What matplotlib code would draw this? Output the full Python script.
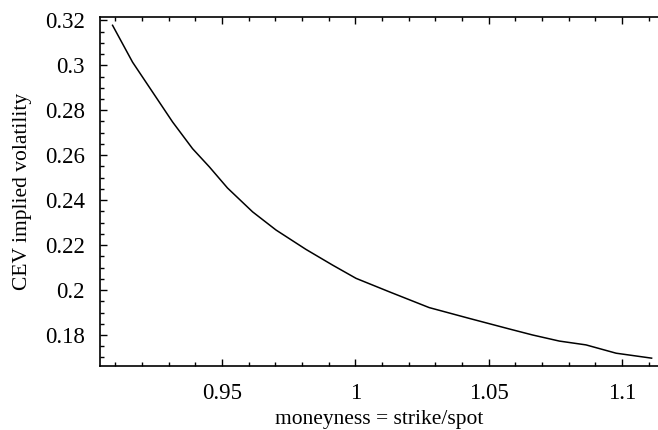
import numpy as np
import matplotlib.pyplot as plt
from matplotlib.ticker import MultipleLocator, FuncFormatter

# CEV implied volatility vs moneyness
moneyness = [0.909, 0.9165, 0.924, 0.9315, 0.939, 0.9453, 0.9521, 0.9615,
             0.9703, 0.9815, 0.9915, 1.0003, 1.0128, 1.0277, 1.0427, 1.0577,
             1.0665, 1.0765, 1.0865, 1.0978, 1.1111]
implied_vol = [0.3178, 0.3014, 0.2881, 0.2748, 0.2629, 0.2548, 0.2454, 0.2348,
               0.2267, 0.2181, 0.2111, 0.2052, 0.1992, 0.1922, 0.1874, 0.1827,
               0.1800, 0.1773, 0.1756, 0.1719, 0.1697]

plt.rcParams['font.family'] = ['Liberation Serif', 'DejaVu Serif']

fig = plt.figure(figsize=(6.58, 4.30), dpi=100)
ax = fig.add_axes([0.152, 0.1488, 0.848, 0.8117])

ax.plot(moneyness, implied_vol, color='black', linewidth=1.1)

ax.set_xlim(0.9043, 1.1135)
ax.set_ylim(0.1662, 0.3215)

ax.xaxis.set_major_locator(MultipleLocator(0.05))
ax.xaxis.set_minor_locator(MultipleLocator(0.01))
ax.yaxis.set_major_locator(MultipleLocator(0.02))
ax.yaxis.set_minor_locator(MultipleLocator(0.005))

fmt = FuncFormatter(lambda v, p: ('%g' % round(v, 4)))
ax.xaxis.set_major_formatter(fmt)
ax.yaxis.set_major_formatter(fmt)

ax.spines['right'].set_visible(False)
for s in ['left', 'top', 'bottom']:
    ax.spines[s].set_linewidth(1.2)

ax.tick_params(which='both', direction='in', top=True, right=False,
               labelsize=16.5, width=1.0)
ax.tick_params(which='major', length=5)
ax.tick_params(which='minor', length=3)
ax.tick_params(axis='x', which='major', pad=12)
ax.tick_params(axis='y', which='major', pad=11)

ax.set_xlabel('moneyness = strike/spot', fontsize=15.5)
ax.set_ylabel('CEV implied volatility', fontsize=15.5)
ax.xaxis.set_label_coords(0.5, -0.126)
ax.yaxis.set_label_coords(-0.122, 0.5)

plt.savefig('out.png', dpi=100, facecolor='white')
